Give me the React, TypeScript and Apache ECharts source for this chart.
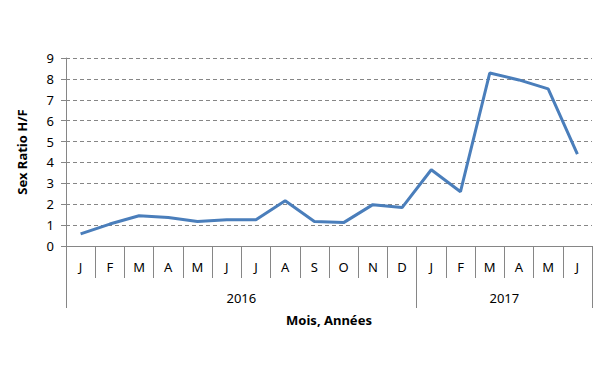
import React, { useEffect, useRef } from "react";
import * as echarts from "echarts";

const months = ["J", "F", "M", "A", "M", "J", "J", "A", "S", "O", "N", "D", "J", "F", "M", "A", "M", "J"];
const values = [0.58, 1.05, 1.45, 1.36, 1.17, 1.26, 1.26, 2.17, 1.17, 1.12, 1.98, 1.84, 3.65, 2.6, 8.28, 7.95, 7.52, 4.4];
const years = ["2016", "2017"];
const yearCenters = [6, 15];
const yearBounds = [0, 12, 18];
const yTitle = "Sex Ratio H/F";
const xTitle = "Mois, Années";

const FONT = "Noto Sans";
const GRAY = "#868686";

export default function App() {
  const ref = useRef<HTMLDivElement>(null);
  useEffect(() => {
    const chart = echarts.init(ref.current!, null, { renderer: "svg" });
    chart.setOption({
      animation: false,
      backgroundColor: "#ffffff",
      textStyle: { fontFamily: FONT },
      grid: { left: 66, right: 20, top: 58, bottom: 142, containLabel: false },
      xAxis: [
        {
          type: "category",
          data: months,
          boundaryGap: true,
          position: "bottom",
          axisLine: { show: true, lineStyle: { color: GRAY, width: 1 } },
          axisTick: { show: true, interval: 0, length: 32, lineStyle: { color: GRAY } },
          axisLabel: { interval: 0, margin: 14, fontSize: 13, color: "#000", fontFamily: FONT },
          splitLine: { show: false },
          name: xTitle,
          nameLocation: "middle",
          nameGap: 67,
          nameTextStyle: { fontSize: 13, fontWeight: "bold", color: "#000", fontFamily: FONT },
        },
        {
          type: "value",
          min: 0,
          max: 18,
          position: "bottom",
          axisLine: { show: false },
          axisTick: { show: true, length: 62, customValues: yearBounds, lineStyle: { color: GRAY } },
          axisLabel: {
            show: true,
            margin: 45,
            fontSize: 13,
            color: "#000",
            fontFamily: FONT,
            customValues: yearCenters,
            formatter: (v: number) => years[yearCenters.indexOf(v)] ?? "",
          },
          splitLine: { show: false },
        },
      ],
      yAxis: {
        type: "value",
        min: 0,
        max: 9,
        interval: 1,
        axisLine: { show: true, lineStyle: { color: GRAY } },
        axisTick: { show: true, length: 5, lineStyle: { color: GRAY } },
        axisLabel: { margin: 12, fontSize: 13, color: "#000", fontFamily: FONT },
        splitLine: { show: true, lineStyle: { color: GRAY, type: [4, 3], width: 1 } },
        name: yTitle,
        nameLocation: "middle",
        nameRotate: 90,
        nameGap: 38,
        nameTextStyle: { fontSize: 13, fontWeight: "bold", color: "#000", fontFamily: FONT },
      },
      series: [
        {
          type: "line",
          data: values,
          xAxisIndex: 0,
          showSymbol: false,
          symbol: "none",
          lineStyle: { color: "#4a7ebb", width: 3 },
        },
      ],
    });
    return () => chart.dispose();
  }, []);
  return <div ref={ref} style={{ position: "fixed", left: 0, top: 0, width: 612, height: 388 }} />;
}
